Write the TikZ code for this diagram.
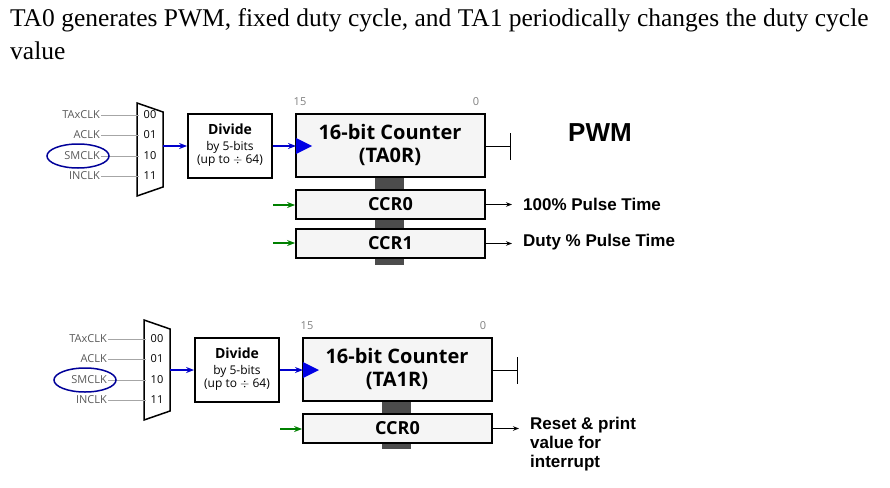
\documentclass[tikz,border=0pt]{standalone}
\usepackage{fontspec}
\setmainfont{Liberation Serif}
\newfontfamily\sans{Open Sans}
\newfontfamily\sansb{Liberation Sans}
\usetikzlibrary{arrows.meta}
\begin{document}
\begin{tikzpicture}[x=1pt,y=-1pt,
  box/.style={draw,line width=1.8pt,fill=gray!8,inner sep=0pt},
  lab/.style={font=\sans\fontsize{11}{12}\selectfont,text=gray!70!black,anchor=east,inner sep=1pt},
  sel/.style={font=\sans\fontsize{11}{12}\selectfont,inner sep=0pt},
  inl/.style={gray!70,line width=0.9pt},
  blue/.style={-{Stealth[length=8pt]},blue!80!black,line width=1.6pt},
  grn/.style={-{Stealth[length=8pt]},green!50!black,line width=1.3pt},
  outa/.style={-{Stealth[length=6pt]},line width=1pt},
  big/.style={font=\sans\bfseries\fontsize{20}{23}\selectfont},
  olab/.style={font=\sansb\bfseries\fontsize{17}{18}\selectfont,anchor=west,align=left,inner sep=0pt}]
\useasboundingbox (0,0) rectangle (890,487);
\node[anchor=north west,font=\fontsize{25.5}{33}\selectfont,align=left,inner sep=0pt] (title) at (10,8)
 {TA0 generates PWM, fixed duty cycle, and TA1 periodically changes the duty cycle\\value};
% ---------- block 1 ----------
\begin{scope}
\fill[gray!60!black] (375,177) rectangle (404,265);
\draw[line width=1.5pt,fill=white] (137,103) -- (163,112) -- (163,187) -- (137,196) -- cycle;
\foreach \t/\s/\y/\n in {TAxCLK/00/115/a0,ACLK/01/135/a1,SMCLK/10/156/a2,INCLK/11/176/a3}{
  \node[lab] (\n l) at (101,\y) {\t};
  \node[sel] (\n s) at (150,\y) {\s};
  \draw[inl] (\n l.east) -- (139,\y);
}
\draw[blue!60!black,line width=1.5pt] (78,156) ellipse (31 and 12);
\node[box,minimum width=84pt,minimum height=64pt,fill=white] (adiv) at (230,146) {};
\node[font=\sans\bfseries\fontsize{14}{15}\selectfont] (adt) at (230,129) {Divide};
\node[font=\sans\fontsize{12}{13}\selectfont,align=center] (adb) at (230,154) {by 5-bits\\(up to $\div$ 64)};
\node[box,minimum width=189pt,minimum height=63pt] (acnt) at (390.5,145.5) {};
\node[big,align=center] (act) at (390,145) {16-bit Counter\\(TA0R)};
\node[font=\sans\fontsize{11}{12}\selectfont,text=gray] (a15) at (300,102) {15};
\node[font=\sans\fontsize{11}{12}\selectfont,text=gray] (a0) at (476,102) {0};
\draw[blue] (163,146) -- (adiv.west);
\draw[blue] (adiv.east) -- (296,146);
\fill[blue!90!black] (296,138) -- (312,146) -- (296,154) -- cycle;
\coordinate (atk) at (510,146);
\draw[line width=1pt] (acnt.east|-atk) -- (atk);
\draw[line width=1pt] (510,133) -- (510,160);
\node[font=\sansb\bfseries\fontsize{26}{28}\selectfont] (pwm) at (600,133) {PWM};
\node[box,minimum width=189pt,minimum height=29pt] (accr0) at (390.5,204.5) {};
\node[big,font=\sans\bfseries\fontsize{18}{20}\selectfont] at (accr0) {CCR0};
\node[box,minimum width=189pt,minimum height=29pt] (accr1) at (390.5,243.5) {};
\node[big,font=\sans\bfseries\fontsize{18}{20}\selectfont] at (accr1) {CCR1};
\coordinate (ag0) at (273,205); \coordinate (ag1) at (273,243);
\draw[grn] (ag0) -- (ag0-|accr0.west);
\draw[grn] (ag1) -- (ag1-|accr1.west);
\node[olab] (ao0) at (523,204) {100\% Pulse Time};
\node[olab] (ao1) at (523,242) {Duty \% Pulse Time};
\draw[outa] (accr0.east) -- (512,204.5);
\draw[outa] (accr1.east) -- (512,243.5);
\end{scope}
% ---------- block 2 ----------
\begin{scope}[shift={(7,224)}]
\fill[gray!60!black] (375,177) rectangle (404,225);
\draw[line width=1.5pt,fill=white] (137,96) -- (163,105) -- (163,187) -- (137,196) -- cycle;
\foreach \t/\s/\y/\n in {TAxCLK/00/115/b0,ACLK/01/135/b1,SMCLK/10/156/b2,INCLK/11/176/b3}{
  \node[lab] (\n l) at (101,\y) {\t};
  \node[sel] (\n s) at (150,\y) {\s};
  \draw[inl] (\n l.east) -- (139,\y);
}
\draw[blue!60!black,line width=1.5pt] (78,156) ellipse (31 and 12);
\node[box,minimum width=84pt,minimum height=64pt,fill=white] (bdiv) at (230,146) {};
\node[font=\sans\bfseries\fontsize{14}{15}\selectfont] (bdt) at (230,129) {Divide};
\node[font=\sans\fontsize{12}{13}\selectfont,align=center] (bdb) at (230,154) {by 5-bits\\(up to $\div$ 64)};
\node[box,minimum width=189pt,minimum height=63pt] (bcnt) at (390.5,145.5) {};
\node[big,align=center] (bct) at (390,145) {16-bit Counter\\(TA1R)};
\node[font=\sans\fontsize{11}{12}\selectfont,text=gray] (b15) at (300,102) {15};
\node[font=\sans\fontsize{11}{12}\selectfont,text=gray] (b0) at (476,102) {0};
\draw[blue] (163,146) -- (bdiv.west);
\draw[blue] (bdiv.east) -- (296,146);
\fill[blue!90!black] (296,138) -- (312,146) -- (296,154) -- cycle;
\coordinate (btk) at (510,146);
\draw[line width=1pt] (bcnt.east|-btk) -- (btk);
\draw[line width=1pt] (510,133) -- (510,160);
\node[box,minimum width=189pt,minimum height=29pt] (bccr0) at (390.5,204.5) {};
\node[big,font=\sans\bfseries\fontsize{18}{20}\selectfont] at (bccr0) {CCR0};
\coordinate (bg0) at (273,205);
\draw[grn] (bg0) -- (bg0-|bccr0.west);
\node[olab,anchor=north west,font=\sansb\bfseries\fontsize{17}{19}\selectfont] (bo0) at (523,193) {Reset \& print\\value for\\interrupt};
\draw[outa] (bccr0.east) -- (512,204.5);
\end{scope}
\end{tikzpicture}
\end{document}
